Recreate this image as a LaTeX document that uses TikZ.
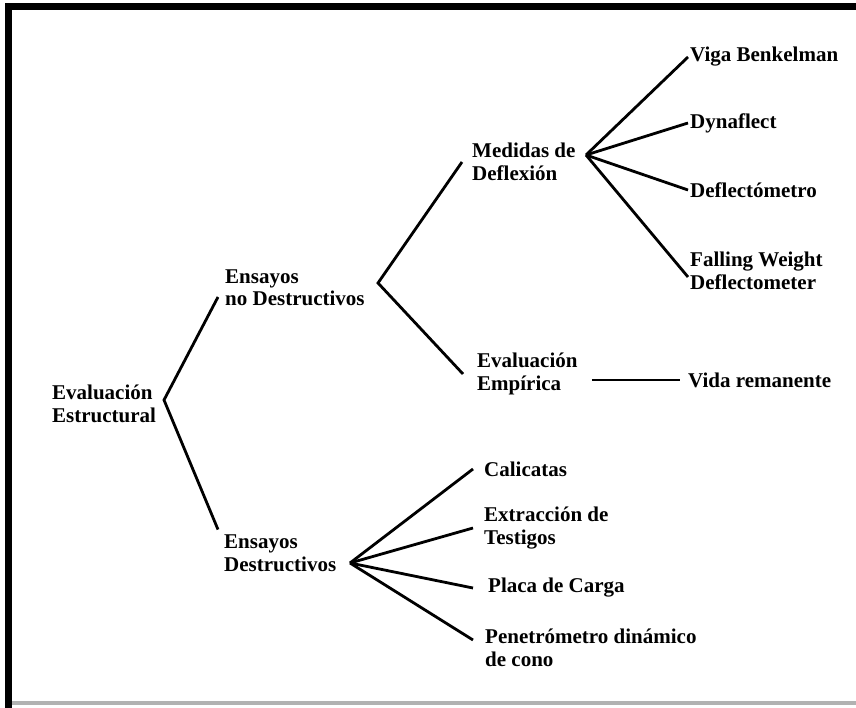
\documentclass[tikz,border=0pt]{standalone}
\usepackage{fontspec}
\setmainfont{Liberation Serif}
\usepackage{tikz}
\usetikzlibrary{calc}

\begin{document}
\begin{tikzpicture}[x=1pt,y=-1pt,
  item/.style={anchor=west,align=left,inner sep=2pt,
    font=\fontsize{21}{22.5}\selectfont\bfseries},
  branch/.style={line width=2.8pt}]
  \useasboundingbox (0,0) rectangle (856,708);

  % marco
  \fill (5,3) rectangle (856,10);
  \fill (5,3) rectangle (12,708);
  \fill[black!30] (12,701) rectangle (856,705);

  \node[item] (root) at (50,404) {Evaluación\\Estructural};
  \node[item] (ensnd) at (223,288) {Ensayos\\no Destructivos};
  \node[item] (ensd) at (222,553) {Ensayos\\Destructivos};

  \node[item] (medidas) at (470,162) {Medidas de\\Deflexión};
  \node[item] (empirica) at (475,374) {Evaluación\\Empírica};

  \node[item] (viga) at (688,57) {Viga Benkelman};
  \node[item] (dyna) at (688,123) {Dynaflect};
  \node[item] (deflect) at (688,190) {Deflectómetro};
  \node[item] (fwd) at (688,271) {Falling Weight\\Deflectometer};
  \node[item] (vida) at (686,380) {Vida remanente};

  \node[item] (calicatas) at (482,469) {Calicatas};
  \node[item] (extraccion) at (482,528) {Extracción de\\Testigos};
  \node[item] (placa) at (486,588) {Placa de Carga};
  \node[item] (penetro) at (483,648) {Penetrómetro dinámico\\de cono};

  \coordinate (rfork) at (164,400);
  \coordinate (ndfork) at (378,283);
  \coordinate (dfork) at (350,563);
  \coordinate (mfork) at (586,155);

  \draw[branch] ([shift={(-5,9)}]ensnd.west) -- (rfork) -- ([xshift=-4pt,yshift=3pt]ensd.north west);

  \draw[branch] ([xshift=-8pt]medidas.west) -- (ndfork) -- ([xshift=-12pt]empirica.west);

  \draw[branch] (mfork) -- (viga.west);
  \draw[branch] (mfork) -- (dyna.west);
  \draw[branch] (mfork) -- (deflect.west);
  \draw[branch] (mfork) -- ([yshift=-6pt]fwd.west);

  \draw[branch] ($(empirica.east |- vida.west)+(12,0)$) -- ([xshift=-6pt]vida.west);

  \draw[branch] (dfork) -- ([xshift=-9pt]calicatas.west);
  \draw[branch] (dfork) -- ([xshift=-9pt]extraccion.west);
  \draw[branch] (dfork) -- ([xshift=-13pt]placa.west);
  \draw[branch] (dfork) -- ([xshift=-10pt,yshift=8pt]penetro.west);

\end{tikzpicture}
\end{document}
